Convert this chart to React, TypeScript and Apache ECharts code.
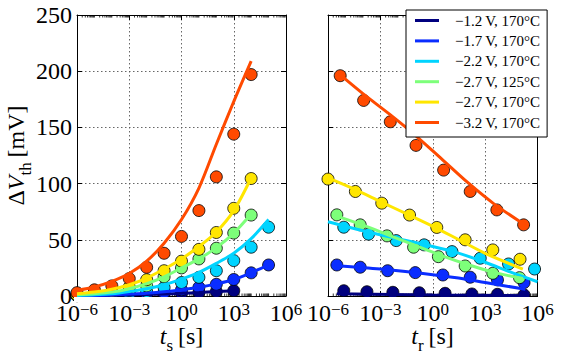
import React, { useEffect, useRef } from "react";
import * as echarts from "echarts";

const FONT = "Liberation Serif";

const LABELS = [
  "\u22121.2\u2009V, 170°C",
  "\u22121.7\u2009V, 170°C",
  "\u22122.2\u2009V, 170°C",
  "\u22122.7\u2009V, 125°C",
  "\u22122.7\u2009V, 170°C",
  "\u22123.2\u2009V, 170°C",
];
const COLORS = ["#00007f", "#0a2dff", "#00d4ff", "#7dff7a", "#ffe600", "#ff4a00"];

// ---- stress (left panel); times start at 1e-6, one value per decade
const stressTimes = [1e-6, 1e-5, 1e-4, 1e-3, 1e-2, 1e-1, 1, 10, 100, 1e3, 1e4, 1e5];
const stressPtsNavy = [0.3, 0.5, 0.7, 1, 1.3, 1.8, 2.4, 3.1, 3.9, 4.7];
const stressPtsBlue = [0.3, 0.5, 0.8, 1.2, 2, 3.2, 5.5, 7.7, 10.4, 14.7, 20.6, 27.6];
const stressPtsCyan = [0.4, 0.7, 1.2, 2.2, 4, 7.5, 12, 16.6, 22.5, 31.5, 43.4, 61.2];
const stressPtsGreen = [0.6, 1.2, 2.5, 5, 9, 17, 25, 33, 42.5, 56, 72];
const stressPtsYellow = [1, 2, 4, 8, 14.5, 22.5, 31, 41.5, 56.5, 78, 104.5];
const stressPtsOrange = [3, 5.5, 9, 15.5, 25.5, 38, 53, 76, 106, 144, 197];

const stressFitNavy = [0.2, 0.4, 0.6, 0.9, 1.3, 1.8, 2.4, 3.1, 3.9, 4.7];
const stressFitBlue = [0, 0.5, 1, 1.7, 2.5, 3.7, 5.5, 7.8, 10.8, 14.7, 20.6, 27.6];
const stressFitCyan = [0.5, 1, 2, 4, 6.5, 10, 15, 21, 29, 38, 51, 68];
const stressFitGreen = [1, 2, 3.5, 6.5, 11, 17, 25, 33, 43, 56, 73];
const stressFitYellow = [2, 3.5, 6, 10, 16, 24, 33, 44, 57, 76, 105];
const stressFitOrange = [5, 8, 13, 20, 31, 47, 68, 96, 135, 173, 209];

// ---- recovery (right panel)
const recTimesNavy = [8e-6, 1.7e-4, 5.2e-3, 0.17, 5.1, 175, 5100, 1.7e5];
const recPtsNavy = [4.7, 3.8, 3.3, 2.9, 2.4, 1.8, 1.5, 0.9];
const recTimesBlue = [3.2e-6, 7e-5, 2.6e-3, 0.1, 3.8, 140, 5100, 1.7e5];
const recPtsBlue = [27.6, 25.6, 22.5, 20.8, 18.7, 16.7, 14.3, 11.9];
const recTimesCyan = [8e-6, 2.1e-4, 8.1e-3, 0.32, 12.6, 525, 2.2e4, 6.8e5];
const recPtsCyan = [61.2, 55, 49.3, 45.5, 39.5, 33.6, 28.5, 24];
const recTimesGreen = [3.2e-6, 7e-5, 2.4e-3, 0.08, 2.1, 72, 2750, 9.3e4];
const recPtsGreen = [72.2, 63.3, 53.5, 43.4, 35, 26.7, 20.2, 16.3];
const recTimesYellow = [1e-6, 3.7e-5, 1.2e-3, 0.047, 1.7, 72, 2750, 1e5];
const recPtsYellow = [104, 93, 82.6, 72, 61, 50, 41, 32.7];
const recTimesOrange = [5e-6, 1.1e-4, 3.7e-3, 0.11, 4.2, 140, 4700, 1.6e5];
const recPtsOrange = [196, 174, 155, 134, 112, 93, 76.6, 63.3];

const recFitTimesNavy = [3.2e-6, 1, 2e5];
const recFitNavy = [2, 1, 0.3];
const recFitTimesBlue = [3.2e-6, 1e-3, 1, 30, 1e3, 2e5];
const recFitBlue = [27, 24, 19, 16, 12, 6];
const recFitTimesCyan = [1e-6, 1e-4, 1e-2, 1, 16, 1e3, 3.2e4, 1e6];
const recFitCyan = [66, 58, 51, 44, 39.5, 30, 21, 12.7];
const recFitTimesGreen = [3.2e-6, 1e-4, 3.2e-3, 0.1, 3.2, 100, 3200, 1.45e5];
const recFitGreen = [71, 63, 54, 45, 36, 28, 21, 15.5];
const recFitTimesYellow = [1e-6, 3.2e-5, 1e-3, 0.032, 1, 32, 1e3, 1.45e5];
const recFitYellow = [105, 95, 84, 73, 62, 50, 38, 24];
const recFitTimesOrange = [4e-6, 1e-4, 3.2e-3, 0.1, 3.2, 100, 3200, 1.6e5];
const recFitOrange = [198, 180, 162, 143, 122, 101, 82, 64];

const stressPts = [stressPtsNavy, stressPtsBlue, stressPtsCyan, stressPtsGreen, stressPtsYellow, stressPtsOrange];
const stressFits = [stressFitNavy, stressFitBlue, stressFitCyan, stressFitGreen, stressFitYellow, stressFitOrange];
const recTimes = [recTimesNavy, recTimesBlue, recTimesCyan, recTimesGreen, recTimesYellow, recTimesOrange];
const recPts = [recPtsNavy, recPtsBlue, recPtsCyan, recPtsGreen, recPtsYellow, recPtsOrange];
const recFitTimes = [recFitTimesNavy, recFitTimesBlue, recFitTimesCyan, recFitTimesGreen, recFitTimesYellow, recFitTimesOrange];
const recFits = [recFitNavy, recFitBlue, recFitCyan, recFitGreen, recFitYellow, recFitOrange];

function pairs(ts: number[], vs: number[]) {
  return vs.map((v, i) => [Math.log10(ts[i]), v]);
}

function minorTickData() {
  const d: number[][] = [];
  for (let n = -6; n < 6; n++) {
    for (let k = 1; k <= 9; k++) {
      const x = n + Math.log10(k);
      if (k === 1 && n % 3 === 0) continue;
      d.push([x, 0]);
    }
  }
  return d;
}

export default function App() {
  const ref = useRef<HTMLDivElement>(null);
  useEffect(() => {
    if (!ref.current) return;
    const chart = echarts.init(ref.current, null, { renderer: "svg" });

    const gridLine = { show: true, lineStyle: { color: "#555", width: 0.9, type: [1.5, 2.5] as any } };
    const xAxisOf = (gridIndex: number, position: string, showLabel: boolean) => ({
      type: "value",
      gridIndex,
      position,
      min: -6,
      max: 6,
      interval: 3,
      axisLine: { show: true, onZero: false, lineStyle: { color: "#000", width: 1 } },
      axisTick: { show: true, inside: true, length: 5, lineStyle: { color: "#000", width: 1 } },
      axisLabel: showLabel
        ? {
            show: true,
            margin: 5,
            showMinLabel: true,
            showMaxLabel: true,
            formatter: (v: number) => `{b|10}{s|${v < 0 ? "\u2212" : ""}${Math.abs(v)}}`,
            rich: {
              b: { fontFamily: FONT, fontSize: 24, lineHeight: 18, color: "#000", verticalAlign: "top" },
              s: { fontFamily: FONT, fontSize: 17, lineHeight: 14, color: "#000", verticalAlign: "top" },
            },
          }
        : { show: false },
      splitLine: position === "bottom" ? gridLine : { show: false },
    });
    const yAxisOf = (gridIndex: number, position: string, showLabel: boolean) => ({
      type: "value",
      gridIndex,
      position,
      min: 0,
      max: 250,
      interval: 50,
      axisLine: { show: true, onZero: false, lineStyle: { color: "#000", width: 1 } },
      axisTick: { show: true, inside: true, length: 5, lineStyle: { color: "#000", width: 1 } },
      axisLabel: showLabel
        ? { show: true, margin: 5, fontFamily: FONT, fontSize: 24, lineHeight: 9, color: "#000" }
        : { show: false },
      splitLine: position === "left" ? gridLine : { show: false },
    });

    const series: any[] = [];
    for (let i = 0; i < 6; i++) {
      series.push({
        type: "scatter",
        name: LABELS[i] + " data",
        xAxisIndex: 0,
        yAxisIndex: 0,
        data: pairs(stressTimes, stressPts[i]),
        symbol: "circle",
        symbolSize: 12,
        itemStyle: { color: COLORS[i], borderColor: "#000", borderWidth: 0.8, opacity: 1 },
        z: 2 + i * 0.01,
      });
      series.push({
        type: "scatter",
        name: LABELS[i] + " data r",
        xAxisIndex: 2,
        yAxisIndex: 2,
        data: pairs(recTimes[i], recPts[i]),
        symbol: "circle",
        symbolSize: 12,
        itemStyle: { color: COLORS[i], borderColor: "#000", borderWidth: 0.8, opacity: 1 },
        z: 2 + i * 0.01,
      });
    }
    for (let i = 0; i < 6; i++) {
      series.push({
        type: "line",
        name: LABELS[i],
        xAxisIndex: 0,
        yAxisIndex: 0,
        data: pairs(stressTimes, stressFits[i]),
        smooth: 0.3,
        showSymbol: false,
        symbol: "none",
        lineStyle: { color: COLORS[i], width: 3 },
        itemStyle: { color: COLORS[i] },
        z: 3 + i * 0.01,
      });
      series.push({
        type: "line",
        name: LABELS[i],
        xAxisIndex: 2,
        yAxisIndex: 2,
        data: pairs(recFitTimes[i], recFits[i]),
        smooth: 0.3,
        showSymbol: false,
        symbol: "none",
        lineStyle: { color: COLORS[i], width: 3 },
        itemStyle: { color: COLORS[i] },
        z: 3 + i * 0.01,
      });
    }
    const minorRender = (params: any, api: any) => {
      const x = api.value(0);
      const p0 = api.coord([x, 0]);
      const p1 = api.coord([x, 250]);
      return {
        type: "group",
        children: [
          { type: "line", shape: { x1: p0[0], y1: p0[1], x2: p0[0], y2: p0[1] - 2.5 }, style: { stroke: "#000", lineWidth: 0.8 } },
          { type: "line", shape: { x1: p1[0], y1: p1[1], x2: p1[0], y2: p1[1] + 2.5 }, style: { stroke: "#000", lineWidth: 0.8 } },
        ],
      };
    };
    [0, 2].forEach((ai) => {
      series.push({
        type: "custom",
        name: "minor" + ai,
        xAxisIndex: ai,
        yAxisIndex: ai,
        data: minorTickData(),
        renderItem: minorRender,
        silent: true,
        clip: false,
        z: 1,
      });
    });

    const nameRich = {
      n: { fontFamily: FONT, fontSize: 24, lineHeight: 24, color: "#000", verticalAlign: "top" },
      i: { fontFamily: FONT, fontSize: 24, lineHeight: 24, fontStyle: "italic", color: "#000", verticalAlign: "top" },
      sub: { fontFamily: FONT, fontSize: 17, lineHeight: 30, color: "#000", verticalAlign: "bottom" },
    };

    chart.setOption({
      animation: false,
      backgroundColor: "#fff",
      grid: [
        { left: 77, top: 15, width: 209, height: 281 },
        { left: 328, top: 15, width: 209.5, height: 281 },
      ],
      xAxis: [
        xAxisOf(0, "bottom", true),
        xAxisOf(0, "top", false),
        xAxisOf(1, "bottom", true),
        xAxisOf(1, "top", false),
      ],
      yAxis: [
        yAxisOf(0, "left", true),
        yAxisOf(0, "right", false),
        yAxisOf(1, "left", false),
        yAxisOf(1, "right", false),
      ],
      legend: {
        data: LABELS,
        orient: "vertical",
        left: 406,
        top: 10,
        padding: [3, 7, 7, 9],
        itemWidth: 24,
        itemHeight: 3,
        itemGap: 5.4,
        icon: "rect",
        backgroundColor: "#fff",
        borderColor: "#000",
        borderWidth: 1,
        borderRadius: 0,
        selectedMode: false,
        textStyle: { fontFamily: FONT, fontSize: 15, lineHeight: 15, color: "#000", padding: [0, 0, 0, 11] },
        z: 10,
      },
      graphic: [
        { type: "rect", shape: { x: 74, y: 297, width: 216, height: 5 }, style: { fill: "#fff" }, z: 50, silent: true },
        { type: "rect", shape: { x: 322, y: 297, width: 222, height: 5 }, style: { fill: "#fff" }, z: 50, silent: true },
        {
          type: "text",
          x: 19,
          y: 155.5,
          rotation: Math.PI / 2,
          z: 50,
          style: { text: "{n|\u0394}{i|V}{sub|th}{n|\u2009[mV]}", rich: nameRich, align: "center", verticalAlign: "middle" },
        },
        {
          type: "text",
          x: 181.5,
          y: 339,
          z: 50,
          style: { text: "{i|t}{sub|s}{n|\u2009[s]}", rich: nameRich, align: "center", verticalAlign: "middle" },
        },
        {
          type: "text",
          x: 432.5,
          y: 339,
          z: 50,
          style: { text: "{i|t}{sub|r}{n|\u2009[s]}", rich: nameRich, align: "center", verticalAlign: "middle" },
        },
      ],
      series,
    });
    return () => chart.dispose();
  }, []);
  return <div ref={ref} style={{ position: "fixed", left: 0, top: 0, width: 562, height: 357 }} />;
}
